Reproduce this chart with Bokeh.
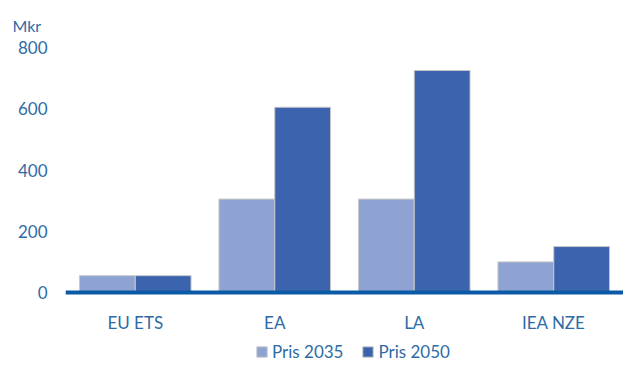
from bokeh.plotting import figure
from bokeh.models import ColumnDataSource, FactorRange, Range1d, Legend, LegendItem, FixedTicker, Span
from bokeh.core.properties import value
from bokeh.transform import dodge
from bokeh.embed import file_html
from bokeh.resources import INLINE

categories = ["EU ETS", "EA", "LA", "IEA NZE"]
pris_2035 = [55, 305, 305, 100]
pris_2050 = [55, 605, 725, 150]
series_names = ["Pris 2035", "Pris 2050"]
y_ticks = [0, 200, 400, 600, 800]

light = "#8FA3D3"
dark = "#3C63AD"
text_col = "#2E6BA6"
axis_col = "#0B5AA5"
font = "Lato"

# layout: 0 at y=292px, 800 at y=47px; frame extends to canvas bottom (365px)
PX_PER_UNIT = 245 / 800
Y_MIN = -73 / PX_PER_UNIT
LABEL_Y = -30 / PX_PER_UNIT

src = ColumnDataSource(dict(cat=categories, p35=pris_2035, p50=pris_2050,
                            ly=[LABEL_Y] * len(categories)))

p = figure(frame_width=558, frame_height=318,
           x_range=FactorRange(*categories, range_padding=0.0),
           y_range=Range1d(Y_MIN, 800), output_backend="svg", toolbar_location=None,
           x_axis_location=None,
           min_border_left=65, min_border_right=0, min_border_top=47, min_border_bottom=0,
           title="Mkr")
p.outline_line_color = None
p.xgrid.grid_line_color = None
p.ygrid.grid_line_color = None
p.background_fill_color = "white"
p.border_fill_color = "white"

p.title.text_color = text_col
p.title.text_font = font
p.title.text_font_size = "16px"
p.title.text_font_style = "normal"
p.title.align = "left"
p.title.offset = -53
p.title.standoff = 26

r1 = p.vbar(x=dodge("cat", -0.2, range=p.x_range), top="p35", width=0.4, source=src,
            fill_color=light, line_color="#C8C8C8", line_width=1)
r2 = p.vbar(x=dodge("cat", 0.2, range=p.x_range), top="p50", width=0.4, source=src,
            fill_color=dark, line_color="#C8C8C8", line_width=1)

# baseline (category axis line)
p.add_layout(Span(location=0, dimension="width", line_color=axis_col, line_width=4))

# category labels
p.text(x="cat", y="ly", text="cat", source=src, text_align="center", text_baseline="middle",
       text_color=text_col, text_font=value(font), text_font_size="17px")

ya = p.yaxis[0]
ya.ticker = FixedTicker(ticks=y_ticks)
ya.axis_line_color = None
ya.major_tick_line_color = None
ya.minor_tick_line_color = None
ya.major_tick_out = 0
ya.minor_tick_out = 0
ya.major_label_text_color = text_col
ya.major_label_text_font = font
ya.major_label_text_font_size = "17px"
ya.major_label_standoff = 18

legend = Legend(items=[LegendItem(label=series_names[0], renderers=[r1]),
                       LegendItem(label=series_names[1], renderers=[r2])],
                orientation="horizontal", location=(190, 3),
                label_text_color=text_col, label_text_font=font, label_text_font_size="17px",
                glyph_width=13, glyph_height=13, label_standoff=4, spacing=18,
                border_line_color=None, background_fill_alpha=0, padding=0, margin=0)
p.add_layout(legend, "center")

open("out.html", "w").write(file_html(p, INLINE))
